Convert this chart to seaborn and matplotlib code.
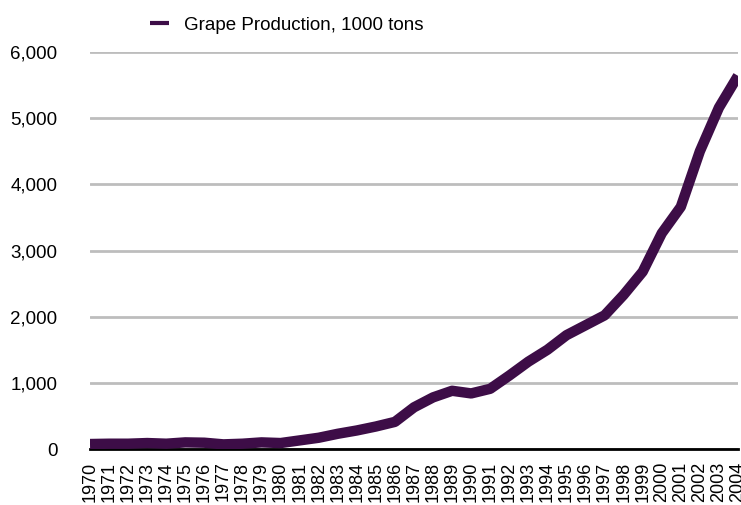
import matplotlib
matplotlib.use("Agg")
import matplotlib.pyplot as plt
import matplotlib.ticker as mticker
import pandas as pd
import seaborn as sns

# 연도 / 생산량 (1000 tons)
years = list(range(1970, 2005))
production = [
    75, 80, 80, 90, 80, 100, 95, 70, 80, 100,
    90, 130, 170, 230, 280, 340, 410, 630, 780, 880,
    840, 910, 1110, 1320, 1500, 1720, 1870, 2020, 2330, 2680,
    3260, 3660, 4500, 5160, 5640,
]
series_label = "Grape Production, 1000 tons"
y_ticks = [0, 1000, 2000, 3000, 4000, 5000, 6000]

df = pd.DataFrame({"year": years, "value": production})

sns.set_style("white")
plt.rcParams["font.family"] = ["Liberation Sans", "DejaVu Sans"]
plt.rcParams["text.color"] = "black"
plt.rcParams["xtick.color"] = "black"
plt.rcParams["ytick.color"] = "black"

fig = plt.figure(figsize=(7.41, 5.05), dpi=100)
ax = fig.add_axes([90 / 741, 1 - 449 / 505, 648 / 741, 397 / 505])

sns.lineplot(
    data=df, x="year", y="value", ax=ax,
    color="#3d0d47", linewidth=7.5, label=series_label,
    solid_capstyle="butt", solid_joinstyle="round",
)

ax.set_xlim(1970, 2004)
ax.set_ylim(0, 6000)
ax.set_xticks(years)
ax.set_xticklabels([str(y) for y in years], rotation=90, fontsize=13)
ax.set_yticks(y_ticks)
ax.yaxis.set_major_formatter(mticker.StrMethodFormatter("{x:,.0f}"))
ax.tick_params(axis="y", labelsize=13.5, length=0, pad=23.5)
ax.tick_params(axis="x", length=0, pad=9)

ax.grid(axis="y", color="#bdbdbd", linewidth=2)
ax.set_axisbelow(True)
for s in ["left", "right", "top"]:
    ax.spines[s].set_visible(False)
ax.spines["bottom"].set_color("black")
ax.spines["bottom"].set_linewidth(2)
ax.spines["bottom"].set_zorder(1)
ax.set_xlabel("")
ax.set_ylabel("")

leg = ax.legend(
    loc="center left", bbox_to_anchor=(133 / 741, 1 - 25 / 505),
    bbox_transform=fig.transFigure, frameon=False, fontsize=13.5,
    handlelength=1.0, handletextpad=0.8,
)
for h in leg.get_lines():
    h.set_linewidth(3)

fig.savefig("out.png", dpi=100)
